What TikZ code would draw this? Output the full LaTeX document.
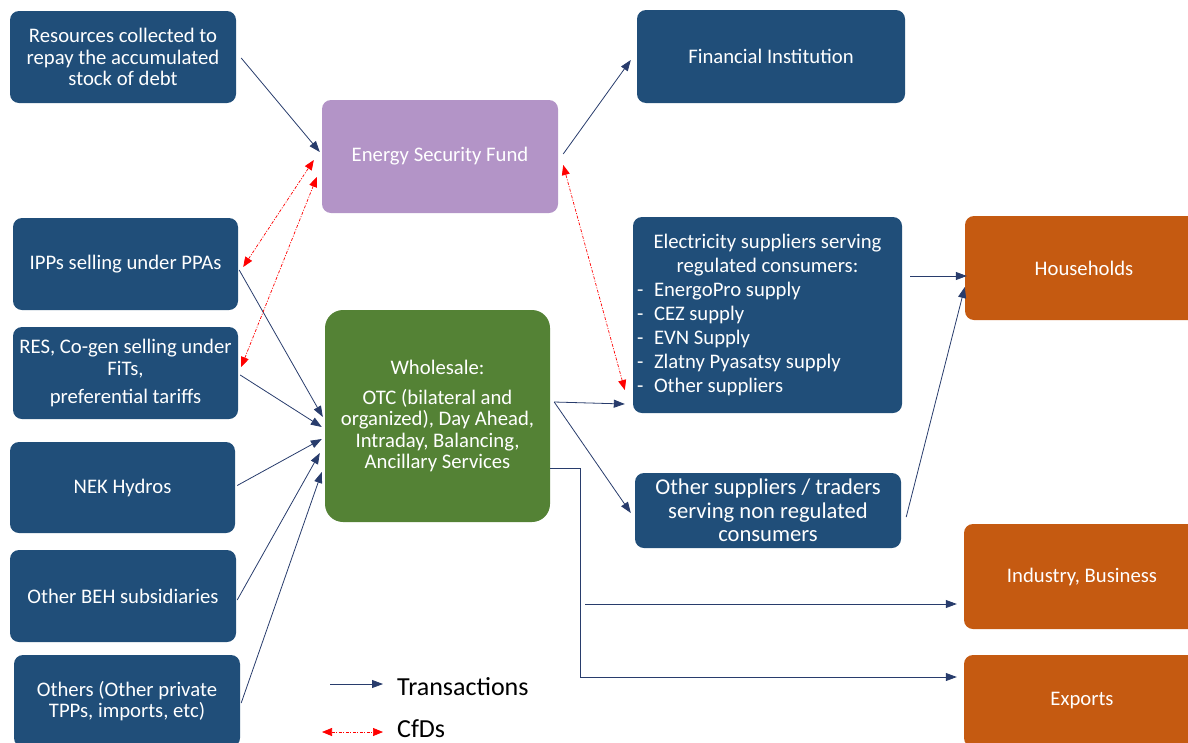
\documentclass[tikz,border=0pt]{standalone}
\usepackage{fontspec}
\setmainfont{Carlito}
\usetikzlibrary{arrows.meta,calc}
\definecolor{navy}{RGB}{32,78,121}
\definecolor{purp}{RGB}{179,148,199}
\definecolor{grn}{RGB}{84,130,53}
\definecolor{orng}{RGB}{197,90,17}
\definecolor{lnk}{RGB}{40,60,108}
\tikzset{
  box/.style={rounded corners=9pt, fill=navy, text=white, align=center, inner sep=0pt,
    font=\fontsize{20.7}{21.5}\selectfont},
  tr/.style={-{Triangle[length=11pt,width=8pt]}, draw=lnk, line width=0.8pt},
  cfd/.style={{Triangle[length=10pt,width=8pt]}-{Triangle[length=10pt,width=8pt]}, draw=red,
    line width=0.7pt, dash pattern=on 3pt off 1.5pt on 1pt off 1.5pt},
  legtext/.style={anchor=base west, inner sep=0pt, font=\fontsize{26}{30}\selectfont, text=black}
}
\begin{document}
\begin{tikzpicture}[x=1pt,y=-1pt]
\useasboundingbox (0,0) rectangle (1188,742);

\node[box, minimum width=226pt, minimum height=92pt] (res) at (123,57)
  {Resources collected to\\repay the accumulated\\stock of debt};
\node[box, fill=purp, minimum width=236pt, minimum height=113pt] (esf) at (440,156.5)
  {Energy Security Fund};
\node[box, minimum width=268pt, minimum height=93pt] (fin) at (771,56.5)
  {Financial Institution};
\node[box, minimum width=225pt, minimum height=92pt] (ipp) at (125.5,264)
  {IPPs selling under PPAs};
\node[box, minimum width=225pt, minimum height=92pt] (fit) at (125.5,373)
  {RES, Co-gen selling under\\FiTs,\\[7pt]preferential tariffs};
\node[box, minimum width=225pt, minimum height=91pt] (nek) at (122.5,487.5)
  {NEK Hydros};
\node[box, minimum width=226pt, minimum height=92pt] (beh) at (123,596)
  {Other BEH subsidiaries};
\node[box, minimum width=226pt, minimum height=92pt] (oth) at (127,701)
  {Others (Other private\\TPPs, imports, etc)};
\node[box, fill=grn, rounded corners=18pt, minimum width=225pt, minimum height=212pt] (whs) at (437.5,416)
  {Wholesale:\\[8pt]OTC (bilateral and\\organized), Day Ahead,\\Intraday, Balancing,\\Ancillary Services};
\node[box, minimum width=269pt, minimum height=196pt] (elec) at (767.5,315) {};
\node[box, fill=none, font=\fontsize{20.7}{24}\selectfont] (elechead) at ($(elec.north)+(0,38)$)
  {Electricity suppliers serving\\regulated consumers:};
\node[box, fill=none, align=left, anchor=west, font=\fontsize{20.7}{24}\selectfont] (eleclist) at ($(elec.west)+(4,23.5)$)
  {\makebox[17pt][l]{-}EnergoPro supply\\
   \makebox[17pt][l]{-}CEZ supply\\
   \makebox[17pt][l]{-}EVN Supply\\
   \makebox[17pt][l]{-}Zlatny Pyasatsy supply\\
   \makebox[17pt][l]{-}Other suppliers};
\node[box, minimum width=266pt, minimum height=75pt, font=\fontsize{22.6}{23.5}\selectfont] (ots) at (768,510.5)
  {Other suppliers / traders\\serving non regulated\\consumers};
\node[box, fill=orng, minimum width=238pt, minimum height=104pt] (hh) at (1084,268) {Households};
\node[box, fill=orng, minimum width=236pt, minimum height=105pt] (ind) at (1082,576.5) {Industry, Business};
\node[box, fill=orng, minimum width=236pt, minimum height=92pt] (exp) at (1082,701) {Exports};

% transactions
\draw[tr] ($(res.east)+(5,1)$) -- ($(esf.west)+(-2,-4.5)$);
\draw[tr] ($(esf.east)+(5,-2.5)$) -- ($(fin.west)+(-6,3.5)$);
\draw[tr] ($(ipp.east)+(1,6)$) -- ($(whs.west)+(-2,1)$);
\draw[tr] ($(fit.east)+(2,2)$) -- ($(whs.west)+(-3,11)$);
\draw[tr] ($(nek.east)+(2,-2)$) -- ($(whs.west)+(-3,23)$);
\draw[tr] ($(beh.east)+(1,4)$) -- ($(whs.west)+(-5,37)$);
\draw[tr] ($(oth.east)+(1,2)$) -- ($(whs.west)+(-3,56)$);
\draw[tr] ($(whs.east)+(4,-14)$) -- ($(elec.west)+(-8,89)$);
\draw[tr] ($(whs.east)+(4,-14)$) -- ($(ots.west)+(-4,2.5)$);
\draw[tr] ($(whs.east)+(0,52)$) -| ($(whs.east)+(30,261)$) -- ($(exp.west)+(-7,-24)$);
\coordinate (indstart) at ($(whs.east)+(35,188)$);
\draw[tr] (indstart) -- ($(ind.west)+(-7,27.5)$);
\draw[tr] ($(elec.east)+(8,-39)$) -- ($(hh.west)+(2,8)$);
\draw[tr] ($(ots.east)+(5,6.5)$) -- ($(hh.west)+(0,19)$);

% CfDs
\draw[cfd] ($(ipp.east)+(5,3)$) -- ($(esf.west)+(-8,3.5)$);
\draw[cfd] ($(fit.east)+(3,-6)$) -- ($(esf.west)+(-5,20.5)$);
\draw[cfd] ($(elec.west)+(-8,75)$) -- ($(esf.east)+(5,8.5)$);

% legend
\coordinate (lt1) at (330,684);
\coordinate (lt2) at (383,684);
\draw[tr] (lt1) -- (lt2);
\node[legtext] (ltx) at (397,695) {Transactions};
\coordinate (lc1) at (322,732);
\coordinate (lc2) at (383,732);
\draw[cfd] (lc1) -- (lc2);
\node[legtext] (lcx) at (397,737) {CfDs};
\end{tikzpicture}
\end{document}
